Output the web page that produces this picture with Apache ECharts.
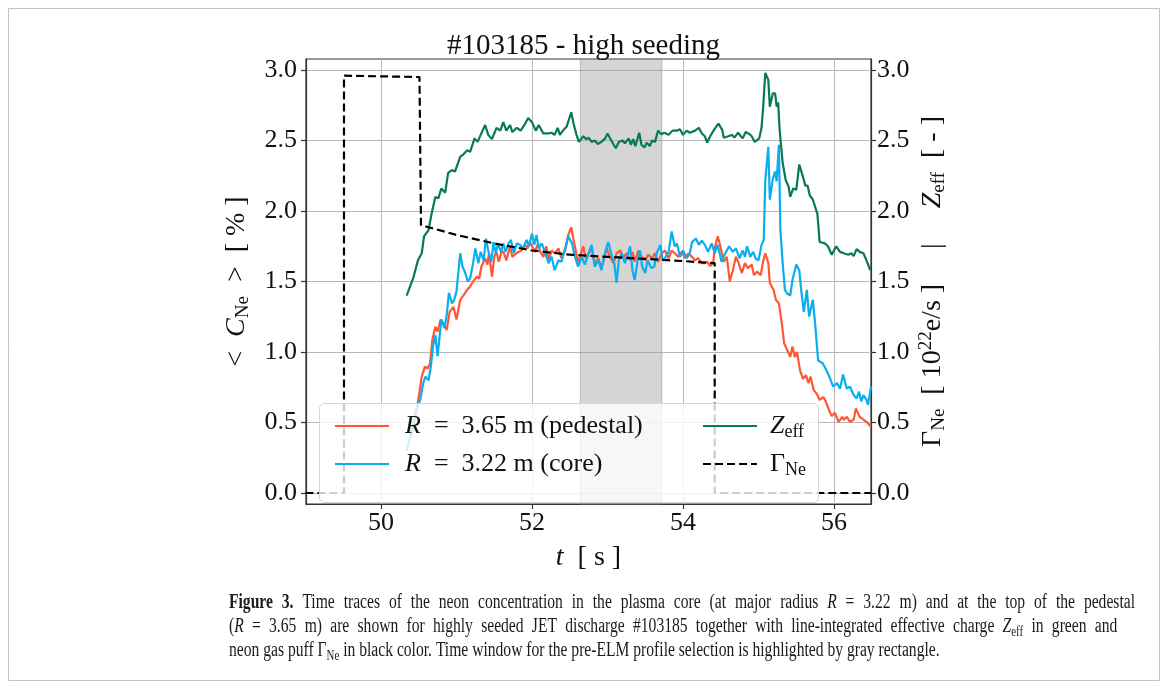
<!DOCTYPE html>
<html>
<head>
<meta charset="utf-8">
<script src="https://cdn.jsdelivr.net/npm/echarts@6/dist/echarts.min.js"></script>
<style>html,body{margin:0;padding:0;background:#fff}#c{width:1167px;height:691px}</style>
</head>
<body>
<div id="c"></div>
<script>
// ---------- data ----------
const xTicks = [50, 52, 54, 56];
const yTicks = [0, 0.5, 1.0, 1.5, 2.0, 2.5, 3.0];
const bandRange = [52.64, 53.72];

const pedTime = [50.40,50.45,50.49,50.54,50.58,50.62,50.65,50.68,50.72,50.75,50.79,50.83,50.87,50.91,50.96,51.00,51.05,51.09,51.14,51.18,51.22,51.27,51.30,51.33,51.38,51.41,51.43,51.47,51.50,51.53,51.56,51.60,51.63,51.66,51.71,51.74,51.77,51.82,51.86,51.91,51.94,51.97,52.00,52.04,52.08,52.11,52.15,52.19,52.22,52.26,52.30,52.35,52.39,52.44,52.48,52.52,52.55,52.58,52.61,52.65,52.68,52.71,52.75,52.79,52.83,52.88,52.92,52.96,52.99,53.03,53.08,53.12,53.17,53.21,53.25,53.30,53.33,53.36,53.41,53.45,53.50,53.54,53.59,53.63,53.67,53.72,53.76,53.81,53.85,53.89,53.94,53.98,54.03,54.07,54.12,54.16,54.20,54.25,54.28,54.32,54.36,54.40,54.42,54.46,54.49,54.54,54.58,54.62,54.66,54.70,54.73,54.78,54.82,54.86,54.91,54.94,54.98,55.03,55.06,55.09,55.13,55.15,55.20,55.23,55.27,55.31,55.34,55.38,55.42,55.45,55.48,55.51,55.55,55.59,55.63,55.66,55.69,55.73,55.77,55.81,55.86,55.89,55.94,55.97,56.01,56.06,56.11,56.13,56.17,56.21,56.26,56.29,56.34,56.39,56.43,56.49];
const pedValue = [0.40,0.52,0.65,0.825,0.895,0.885,0.92,1.085,1.18,1.145,1.23,1.20,1.155,1.285,1.32,1.23,1.37,1.40,1.44,1.465,1.50,1.535,1.52,1.605,1.665,1.62,1.70,1.535,1.675,1.71,1.64,1.72,1.70,1.65,1.75,1.675,1.69,1.71,1.72,1.76,1.735,1.78,1.75,1.71,1.77,1.71,1.675,1.75,1.65,1.72,1.70,1.735,1.665,1.72,1.83,1.885,1.795,1.72,1.63,1.70,1.75,1.665,1.70,1.735,1.63,1.665,1.595,1.675,1.735,1.675,1.63,1.70,1.72,1.665,1.70,1.65,1.71,1.64,1.72,1.675,1.65,1.69,1.665,1.70,1.64,1.70,1.72,1.665,1.72,1.70,1.675,1.71,1.665,1.70,1.675,1.65,1.665,1.63,1.63,1.64,1.61,1.63,1.735,1.82,1.76,1.64,1.675,1.50,1.58,1.675,1.64,1.56,1.63,1.595,1.62,1.545,1.57,1.545,1.64,1.70,1.63,1.49,1.44,1.37,1.345,1.20,1.06,1.015,0.965,1.04,0.965,1.00,0.87,0.81,0.835,0.78,0.825,0.73,0.705,0.66,0.68,0.65,0.58,0.545,0.57,0.505,0.54,0.52,0.54,0.505,0.52,0.60,0.54,0.52,0.505,0.47];

const coreTime = [50.34,50.38,50.42,50.45,50.52,50.56,50.59,50.63,50.66,50.69,50.72,50.75,50.78,50.80,50.84,50.87,50.90,50.94,50.97,51.00,51.05,51.08,51.11,51.15,51.18,51.22,51.25,51.29,51.32,51.36,51.39,51.42,51.46,51.49,51.52,51.55,51.59,51.62,51.65,51.69,51.72,51.76,51.80,51.84,51.88,51.93,51.96,52.00,52.03,52.06,52.09,52.13,52.17,52.22,52.26,52.30,52.35,52.39,52.44,52.48,52.53,52.57,52.61,52.66,52.70,52.75,52.79,52.83,52.88,52.92,52.97,53.01,53.06,53.09,53.12,53.15,53.19,53.23,53.27,53.30,53.33,53.36,53.40,53.43,53.46,53.50,53.53,53.58,53.62,53.65,53.70,53.73,53.76,53.81,53.85,53.89,53.92,53.96,54.00,54.05,54.09,54.12,54.17,54.21,54.25,54.29,54.33,54.38,54.42,54.46,54.51,54.55,54.61,54.66,54.70,54.75,54.79,54.82,54.85,54.89,54.93,54.96,55.00,55.04,55.07,55.09,55.13,55.15,55.19,55.22,55.24,55.27,55.29,55.32,55.35,55.38,55.42,55.45,55.50,55.54,55.57,55.60,55.64,55.67,55.72,55.75,55.79,55.85,55.90,55.95,55.99,56.04,56.08,56.12,56.17,56.21,56.26,56.30,56.33,56.36,56.39,56.43,56.45,56.49];
const coreValue = [0.30,0.38,0.48,0.565,0.66,0.78,0.825,0.80,0.895,1.04,1.12,0.97,1.13,1.23,1.17,1.26,1.42,1.345,1.37,1.43,1.70,1.605,1.57,1.50,1.52,1.63,1.735,1.63,1.71,1.65,1.805,1.72,1.64,1.78,1.70,1.765,1.71,1.77,1.71,1.77,1.795,1.70,1.77,1.76,1.735,1.795,1.75,1.84,1.76,1.83,1.735,1.77,1.71,1.63,1.675,1.58,1.65,1.64,1.735,1.82,1.77,1.675,1.605,1.675,1.62,1.70,1.76,1.605,1.65,1.58,1.71,1.78,1.675,1.63,1.49,1.65,1.70,1.63,1.69,1.75,1.58,1.51,1.65,1.72,1.605,1.56,1.65,1.595,1.605,1.70,1.76,1.65,1.665,1.71,1.855,1.75,1.77,1.675,1.72,1.665,1.70,1.78,1.805,1.76,1.79,1.76,1.71,1.77,1.70,1.76,1.64,1.69,1.75,1.71,1.735,1.665,1.72,1.675,1.75,1.675,1.71,1.665,1.65,1.76,1.795,2.22,2.455,2.08,2.23,2.28,2.21,2.47,1.865,1.63,1.44,1.415,1.40,1.51,1.62,1.58,1.415,1.285,1.44,1.25,1.37,1.20,0.94,0.92,0.87,0.81,0.755,0.78,0.74,0.84,0.74,0.755,0.695,0.67,0.72,0.65,0.695,0.66,0.625,0.755];

const zeffTime = [50.34,50.43,50.49,50.54,50.57,50.63,50.67,50.72,50.76,50.80,50.85,50.89,50.94,50.98,51.05,51.09,51.14,51.18,51.24,51.28,51.32,51.38,51.42,51.47,51.53,51.58,51.62,51.66,51.71,51.74,51.80,51.85,51.91,51.95,52.00,52.05,52.09,52.15,52.22,52.26,52.30,52.34,52.37,52.41,52.46,52.52,52.55,52.59,52.62,52.68,52.72,52.75,52.79,52.83,52.87,52.92,52.97,53.00,53.05,53.11,53.15,53.20,53.23,53.28,53.31,53.34,53.37,53.42,53.45,53.49,53.52,53.56,53.59,53.63,53.67,53.71,53.75,53.81,53.86,53.92,53.96,54.00,54.05,54.09,54.16,54.21,54.25,54.29,54.32,54.36,54.41,54.47,54.52,54.54,54.60,54.65,54.68,54.73,54.79,54.83,54.88,54.91,54.95,55.01,55.04,55.06,55.09,55.13,55.15,55.19,55.22,55.24,55.26,55.28,55.32,55.36,55.40,55.42,55.46,55.50,55.54,55.59,55.62,55.65,55.68,55.72,55.75,55.78,55.81,55.88,55.92,55.97,56.03,56.08,56.13,56.19,56.23,56.26,56.30,56.34,56.39,56.43,56.48];
const zeffValue = [1.40,1.53,1.65,1.70,1.82,1.865,1.98,2.10,2.09,2.16,2.13,2.27,2.29,2.28,2.385,2.40,2.43,2.42,2.515,2.49,2.54,2.61,2.54,2.51,2.59,2.57,2.63,2.57,2.61,2.56,2.59,2.57,2.62,2.66,2.63,2.57,2.61,2.55,2.55,2.555,2.54,2.59,2.54,2.57,2.60,2.70,2.62,2.54,2.49,2.53,2.51,2.52,2.49,2.50,2.475,2.49,2.515,2.55,2.50,2.445,2.49,2.50,2.48,2.515,2.47,2.51,2.46,2.555,2.47,2.45,2.485,2.46,2.50,2.49,2.57,2.545,2.555,2.54,2.57,2.57,2.58,2.54,2.57,2.555,2.57,2.59,2.55,2.53,2.485,2.53,2.575,2.62,2.575,2.52,2.53,2.54,2.52,2.555,2.515,2.56,2.545,2.53,2.49,2.515,2.59,2.72,2.98,2.93,2.74,2.835,2.835,2.74,2.77,2.575,2.34,2.22,2.17,2.10,2.16,2.15,2.33,2.24,2.18,2.18,2.11,2.08,2.03,1.98,1.78,1.77,1.75,1.69,1.75,1.71,1.70,1.69,1.70,1.68,1.73,1.71,1.70,1.65,1.58];

const gammaTime = [49.00,49.51,49.51,50.51,50.53,51.00,51.50,52.00,52.50,53.00,53.50,54.00,54.42,54.42,56.49];
const gammaValue = [0,0,2.96,2.95,1.90,1.83,1.77,1.72,1.69,1.675,1.66,1.645,1.63,0,0];

// caption text, one array of words per printed line
const capLine1 = ['{b|Figure}', '{b|3.}', 'Time', 'traces', 'of', 'the', 'neon', 'concentration', 'in', 'the', 'plasma', 'core', '(at', 'major', 'radius', '{i|R}', '=', '3.22', 'm)', 'and', 'at', 'the', 'top', 'of', 'the', 'pedestal'];
const capLine2 = ['({i|R}', '=', '3.65', 'm)', 'are', 'shown', 'for', 'highly', 'seeded', 'JET', 'discharge', '#103185', 'together', 'with', 'line-integrated', 'effective', 'charge', '{i|Z}{s|eff}', 'in', 'green', 'and'];
const capLine3 = ['neon', 'gas', 'puff', 'Γ{s|Ne}', 'in', 'black', 'color.', 'Time', 'window', 'for', 'the', 'pre-ELM', 'profile', 'selection', 'is', 'highlighted', 'by', 'gray', 'rectangle.'];

// ---------- helpers ----------
const F = '"Liberation Serif", "DejaVu Serif", serif';
const zip = (t, v) => t.map((x, i) => [x, v[i]]);
const mathRich = (fs) => ({
  t: {fontFamily: F, fontSize: fs, color: '#111', lineHeight: fs + 4},
  i: {fontFamily: F, fontSize: fs, fontStyle: 'italic', color: '#111', lineHeight: fs + 4},
  s: {fontFamily: F, fontSize: Math.round(fs * 0.68), color: '#111', lineHeight: Math.round(fs * 0.5), verticalAlign: 'bottom'},
  sup: {fontFamily: F, fontSize: Math.round(fs * 0.68), color: '#111', lineHeight: Math.round(fs * 0.5), verticalAlign: 'top'},
  g1: {width: 11, fontSize: fs, lineHeight: fs + 4},
  g2: {width: 8, fontSize: fs, lineHeight: fs + 4}
});

const legendNames = {
  ped: '{g1| }{i|R}{t|  =  3.65 m (pedestal)}',
  core: '{g1| }{i|R}{t|  =  3.22 m (core)}',
  zeff: '{g2| }{i|Z}{s|eff}',
  gamma: '{g2| }{t|Γ}{s|Ne}'
};

const capRich = (spaceW) => ({
  b: {fontFamily: F, fontSize: 20, fontWeight: 'bold', lineHeight: 24},
  i: {fontFamily: F, fontSize: 20, fontStyle: 'italic', lineHeight: 24},
  s: {fontFamily: F, fontSize: 14, lineHeight: 12, verticalAlign: 'bottom'},
  w: {fontFamily: F, fontSize: 20, lineHeight: 24, width: spaceW}
});
const capText = (words, top, spaceW) => ({
  type: 'text', silent: true, left: 229, top: top, scaleX: 0.78,
  style: {
    text: spaceW ? words.join('{w| }') : words.join(' '),
    fontFamily: F, fontSize: 20, lineHeight: 24, fill: '#1a1a1a',
    rich: capRich(spaceW || 5)
  }
});

const chart = echarts.init(document.getElementById('c'), null, {renderer: 'canvas'});

const grid = {left: 306, right: 296, top: 59, bottom: 187, show: true, borderColor: '#333', borderWidth: 1.2, backgroundColor: 'transparent'};

const lineBase = {type: 'line', showSymbol: false, symbol: 'none', animation: false, silent: true, emphasis: {disabled: true}};

const legendBase = {
  orient: 'vertical', top: 406, itemGap: 8,
  itemWidth: 54, itemHeight: 14, selectedMode: false,
  itemStyle: {opacity: 0},
  formatter: n => legendNames[n],
  textStyle: {rich: mathRich(26), lineHeight: 30}
};

const option = {
  animation: false,
  backgroundColor: '#fff',
  title: {
    text: '#103185 - high seeding', left: 'center', top: 27,
    textStyle: {fontFamily: F, fontSize: 29, fontWeight: 'normal', color: '#111'}
  },
  grid: grid,
  xAxis: {
    type: 'value', min: 49.007, max: 56.49,
    name: '{i|t}{t|  [ s ]}', nameLocation: 'middle', nameGap: 38,
    nameTextStyle: {rich: mathRich(28)},
    axisLine: {show: true, onZero: false, lineStyle: {color: '#333', width: 1.2}},
    axisTick: {show: true, customValues: xTicks, length: 5, lineStyle: {color: '#333', width: 1.2}},
    axisLabel: {customValues: xTicks, fontFamily: F, fontSize: 26, color: '#111', margin: 6, formatter: v => String(Math.round(v))},
    splitLine: {show: true, lineStyle: {color: '#b8b8b8', width: 1}}
  },
  yAxis: [{
    type: 'value', min: -0.078, max: 3.078, position: 'left',
    name: '{t|<  }{i|C}{s|Ne}{t|  >  [ % ]}', nameLocation: 'middle', nameGap: 53, nameRotate: 90,
    nameTextStyle: {rich: mathRich(28)},
    axisLine: {show: true, onZero: false, lineStyle: {color: '#333', width: 1.2}},
    axisTick: {show: true, customValues: yTicks, length: 5, lineStyle: {color: '#333', width: 1.2}},
    axisLabel: {customValues: yTicks, fontFamily: F, fontSize: 26, color: '#111', margin: 9, formatter: v => v.toFixed(1)},
    splitLine: {show: true, lineStyle: {color: '#b8b8b8', width: 1}}
  }, {
    type: 'value', min: -0.078, max: 3.078, position: 'right',
    name: '{t|Γ}{s|Ne}{t|  [ 10}{sup|22}{t|e/s ]     |     }{i|Z}{s|eff}{t|  [ - ]}', nameLocation: 'middle', nameGap: 46, nameRotate: 90,
    nameTextStyle: {rich: mathRich(28)},
    axisLine: {show: true, onZero: false, lineStyle: {color: '#333', width: 1.2}},
    axisTick: {show: true, customValues: yTicks, length: 5, lineStyle: {color: '#333', width: 1.2}},
    axisLabel: {customValues: yTicks, fontFamily: F, fontSize: 26, color: '#111', margin: 6, formatter: v => v.toFixed(1)},
    splitLine: {show: false}
  }],
  legend: [
    Object.assign({}, legendBase, {data: ['ped', 'core'], left: 329}),
    Object.assign({}, legendBase, {data: ['zeff', 'gamma'], left: 697})
  ],
  graphic: [
    {type: 'rect', silent: true, z: -10, shape: {x: 8.5, y: 8.5, width: 1151, height: 672}, style: {fill: 'none', stroke: '#c4c4c4', lineWidth: 1}},
    {type: 'rect', silent: true, z: 3, shape: {x: 319.5, y: 403.5, width: 499, height: 99, r: 5}, style: {fill: 'rgba(255,255,255,0.8)', stroke: '#d4d4d4', lineWidth: 1}},
    capText(capLine1, 591, 11.4),
    capText(capLine2, 615, 10.6),
    capText(capLine3, 639, 0)
  ],
  series: [
    Object.assign({}, lineBase, {
      name: 'band', data: [], z: 1,
      markArea: {silent: true, itemStyle: {color: 'rgba(150,150,150,0.4)', borderColor: 'rgba(140,140,140,0.5)', borderWidth: 1},
        data: [[{xAxis: bandRange[0]}, {xAxis: bandRange[1]}]]}
    }),
    Object.assign({}, lineBase, {name: 'ped', data: zip(pedTime, pedValue), z: 2, color: '#ff5733', lineStyle: {color: '#ff5733', width: 2.2}}),
    Object.assign({}, lineBase, {name: 'core', data: zip(coreTime, coreValue), z: 2, color: '#0aaef0', lineStyle: {color: '#0aaef0', width: 2.2}}),
    Object.assign({}, lineBase, {name: 'zeff', yAxisIndex: 1, data: zip(zeffTime, zeffValue), z: 2, color: '#077a55', lineStyle: {color: '#077a55', width: 2.2}}),
    Object.assign({}, lineBase, {name: 'gamma', yAxisIndex: 1, data: zip(gammaTime, gammaValue), z: 2, color: '#000', lineStyle: {color: '#000', width: 2.2, type: [8, 4]}})
  ]
};
chart.setOption(option);
</script>
</body>
</html>
